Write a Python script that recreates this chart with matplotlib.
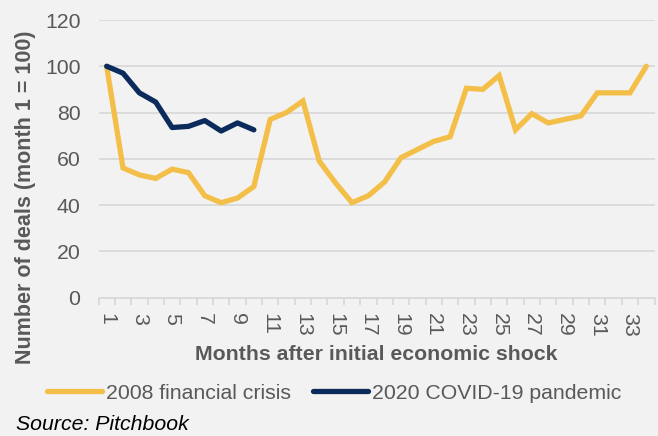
import numpy as np
import matplotlib
matplotlib.use("Agg")
import matplotlib.pyplot as plt
from matplotlib.ticker import FixedLocator

# deals index, month 1 = 100
months = np.arange(1, 35)
crisis_2008 = [100, 56, 53, 51.5, 55.5, 54, 44, 41, 43, 48,
               77, 80, 85, 59, 49.5, 41, 44, 50, 60.5, 64,
               67.5, 69.5, 90.5, 90, 96, 72.5, 79.5, 75.5, 77, 78.5,
               88.5, 88.5, 88.5, 100]
covid_2020 = [100, 97, 88.5, 84.5, 73.5, 74, 76.5, 72, 75.5, 72.5]

YELLOW = "#F3BF48"
NAVY = "#0A2B5C"
GREY_TEXT = "#595959"
GRID = "#D9D9D9"
BG = "#F2F2F2"
FS = 15.3

plt.rcParams["font.family"] = ["Liberation Sans", "DejaVu Sans"]

fig = plt.figure(figsize=(6.58, 4.36), dpi=100, facecolor=BG)
ax = fig.add_axes([98.5 / 658, 138.5 / 436, 556 / 658, 277.5 / 436], facecolor=BG)

l1, = ax.plot(months, crisis_2008, color=YELLOW, lw=3.8, solid_joinstyle="miter",
              solid_capstyle="round", label="2008 financial crisis", zorder=3)
l2, = ax.plot(months[:len(covid_2020)], covid_2020, color=NAVY, lw=3.8,
              solid_capstyle="round", label="2020 COVID-19 pandemic", zorder=4)

ax.set_xlim(0.5, 34.5)
ax.set_ylim(0, 120)
ax.set_yticks(np.arange(0, 121, 20))
ax.yaxis.grid(True, color=GRID, lw=1.3)
ax.set_axisbelow(True)
for s in ["top", "right", "left"]:
    ax.spines[s].set_visible(False)
ax.spines["bottom"].set_color(GRID)
ax.spines["bottom"].set_linewidth(1.3)

ax.xaxis.set_major_locator(FixedLocator(np.arange(1, 35, 2)))
ax.xaxis.set_minor_locator(FixedLocator(np.arange(0.5, 35, 1)))
ax.tick_params(axis="x", which="major", length=0, pad=11, labelsize=FS,
               labelcolor=GREY_TEXT, labelrotation=270)
ax.tick_params(axis="x", which="minor", length=5, width=1.3, color=GRID)
ax.tick_params(axis="y", length=0, pad=13, labelsize=FS, labelcolor=GREY_TEXT)

ax.set_xlabel("Months after initial economic shock", fontsize=FS, fontweight="bold",
              color=GREY_TEXT, labelpad=6)
ax.set_ylabel("Number of deals (month 1 = 100)", fontsize=15.5, fontweight="bold",
              color=GREY_TEXT)
# label sits lower than the axes centre
ax.yaxis.set_label_coords(-0.112, 0.362)

leg = fig.legend(handles=[l1, l2], loc="center left", bbox_to_anchor=(47 / 658, 1 - 393 / 436),
                 ncol=2, frameon=False, fontsize=FS, labelcolor=GREY_TEXT,
                 borderpad=0, borderaxespad=0,
                 handlelength=2.6, handletextpad=0.2, columnspacing=1.0)

fig.text(16 / 658, 1 - 430 / 436, "Source: Pitchbook", fontsize=FS, style="italic",
         color="black", ha="left", va="baseline")

fig.savefig("out.png", dpi=100, facecolor=BG)
